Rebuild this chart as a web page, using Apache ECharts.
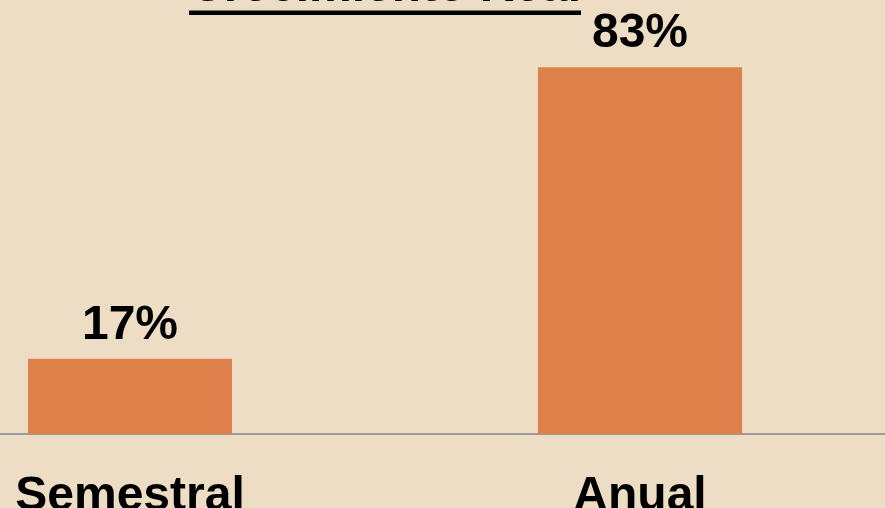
<!DOCTYPE html>
<html><head><meta charset="utf-8">
<script src="https://cdn.jsdelivr.net/npm/echarts@6/dist/echarts.min.js"></script>
<style>html,body{margin:0;padding:0;background:#EDDDC4;}#c{width:885px;height:508px;}</style>
</head><body><div id="c"></div>
<script>
var titleText = "Crecimiento Real";
var categories = ["Semestral", "Anual"];
var values = [17, 83];

var chart = echarts.init(document.getElementById('c'), null, {renderer: 'canvas'});
var font = "'Liberation Sans', Arial, sans-serif";
chart.setOption({
  backgroundColor: '#EDDDC4',
  animation: false,
  title: {
    text: titleText,
    left: 189, top: -36, padding: 0,
    textStyle: {fontFamily: font, fontSize: 48, fontWeight: 'bold', color: '#000', lineHeight: 48}
  },
  graphic: [{
    type: 'rect', left: 189, top: 10.5,
    shape: {width: 392, height: 4.5},
    style: {fill: '#000'}
  }],
  grid: {left: -125, right: -10, top: -8, bottom: 74, containLabel: false, outerBoundsMode: 'none'},
  xAxis: {
    type: 'category', data: categories,
    axisLine: {show: true, lineStyle: {color: '#9A9A9A', width: 2}},
    axisTick: {show: false},
    axisLabel: {fontFamily: font, fontSize: 48, fontWeight: 'bold', color: '#000', margin: 39, lineHeight: 48}
  },
  yAxis: {
    type: 'value', min: 0, max: 100,
    show: false, splitLine: {show: false}
  },
  series: [{
    type: 'bar', data: values, barWidth: '40%',
    itemStyle: {color: '#DE8049'},
    label: {
      show: true, position: 'top', distance: 9,
      formatter: function (p) { return p.value + '%'; },
      fontFamily: font, fontSize: 48, fontWeight: 'bold', color: '#000', lineHeight: 48
    }
  }]
});
</script></body></html>
